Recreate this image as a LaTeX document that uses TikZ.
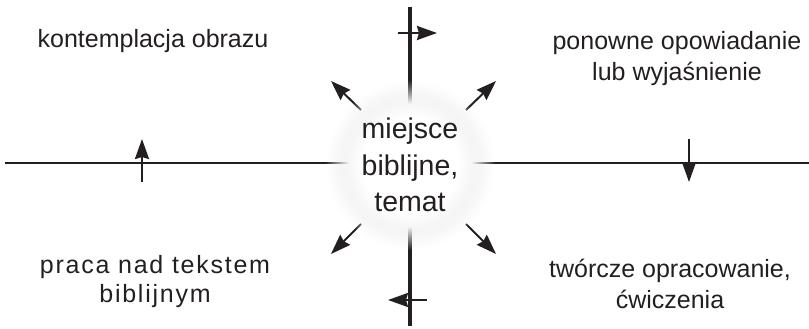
\documentclass[tikz,border=0pt]{standalone}
\usepackage{fontspec}
\setmainfont{Liberation Sans}
\newfontfamily\spacedfont[LetterSpace=7]{Liberation Sans}
\usetikzlibrary{arrows.meta}
\usetikzlibrary{fadings}

\definecolor{ink}{HTML}{231F20}

% soft halo behind the middle text
\pgfdeclareradialshading{glowshade}{\pgfpointorigin}{color(0bp)=(white); color(14bp)=(white); color(21bp)=(black!6); color(25bp)=(black!5); color(50bp)=(black!5)}
\pgfdeclareradialshading{glowmask}{\pgfpointorigin}{color(0bp)=(white); color(18bp)=(white); color(25bp)=(black); color(50bp)=(black)}
\pgfdeclarefading{glowfade}{\pgfuseshading{glowmask}}

\tikzset{
	crossline/.style={ink, line width=2.6pt},
	crosslinev/.style={ink, line width=4.5pt},
	flow/.style={ink, line width=2.4pt, -{Stealth[length=20pt,width=14pt,inset=2pt]}},
	cornertext/.style={text=ink, font=\fontsize{25}{31}\selectfont, align=center, inner sep=0pt},
	hub/.style={text=ink, font=\fontsize{28.5}{36.5}\selectfont, align=center, inner sep=0pt}
}

\begin{document}
\begin{tikzpicture}[x=1pt,y=-1pt]
	\useasboundingbox (0,0) rectangle (809,329);

	\begin{scope}
		\coordinate (north) at (410,7);
		\coordinate (south) at (410,326);
		\coordinate (west) at (5,163);
		\coordinate (east) at (809,163);
		\draw[crosslinev] (north) -- (south);
		\draw[crossline] (west) -- (east);
	\end{scope}

	% arrows on the axes
	\coordinate (n1) at (398,33);   \coordinate (n2) at (437,33);
	\coordinate (s1) at (427,300);  \coordinate (s2) at (388,300);
	\coordinate (w1) at (142,182);  \coordinate (w2) at (142,139);
	\coordinate (e1) at (689,139);  \coordinate (e2) at (689,182);
	\draw[flow] (n1) -- (n2);
	\draw[flow] (s1) -- (s2);
	\draw[flow] (w1) -- (w2);
	\draw[flow] (e1) -- (e2);

	% arrows out of the middle
	\coordinate (nw1) at (361,110); \coordinate (nw2) at (331,81);
	\coordinate (ne1) at (466,110); \coordinate (ne2) at (496,81);
	\coordinate (sw1) at (361,224); \coordinate (sw2) at (331,254);
	\coordinate (se1) at (466,224); \coordinate (se2) at (496,254);
	\foreach \d in {nw,ne,sw,se}
	{
		\draw[flow, line width=2pt] (\d1) -- (\d2);
	}

	\coordinate (glow) at (410,165);
	\shade[shading=glowshade, path fading=glowfade] (glow) circle (85pt);
	\node[hub] (topic) at (glow) {miejsce\\biblijne,\\temat};

	\node[cornertext] (contemplation) at (153,41.5) {kontemplacja obrazu};
	\node[cornertext] (retelling) at (677,59) {ponowne opowiadanie\\lub wyjaśnienie};
	\node[cornertext, font=\spacedfont\fontsize{25}{29}\selectfont] (textwork) at (155,282) {praca nad tekstem\\biblijnym};
	\node[cornertext] (creative) at (670,284) {twórcze opracowanie,\\ćwiczenia};
\end{tikzpicture}
\end{document}
